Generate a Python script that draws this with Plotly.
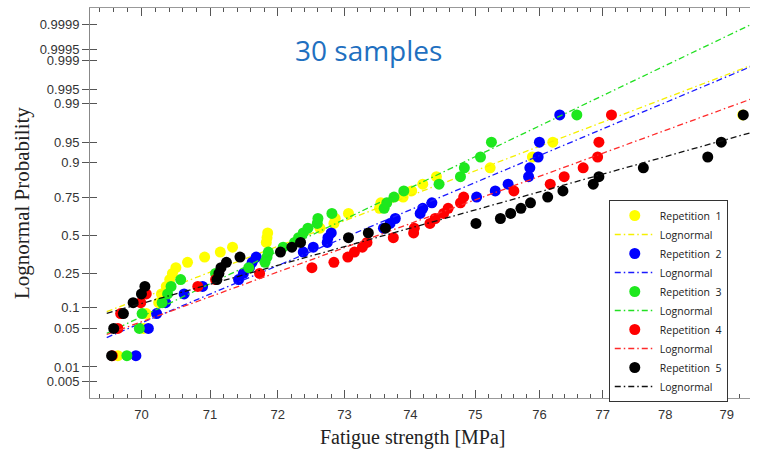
import math
from statistics import NormalDist
import numpy as np
import plotly.graph_objects as go

ND = NormalDist()

# Plotting positions (probabilities) of ranked samples (30 samples)
prob = [0.0167, 0.05, 0.0833, 0.1167, 0.15, 0.1833, 0.2167, 0.25, 0.2833, 0.3167,
        0.35, 0.3833, 0.4167, 0.45, 0.4833, 0.5167, 0.55, 0.5833, 0.6167, 0.65,
        0.6833, 0.7167, 0.75, 0.7833, 0.8167, 0.85, 0.8833, 0.9167, 0.95, 0.9833]

rep1 = [69.66, 70.03, 70.07, 70.25, 70.29, 70.36, 70.41, 70.45, 70.50, 70.67,
        70.92, 71.15, 71.33, 71.83, 71.84, 71.85, 72.63, 72.84, 72.86, 73.06,
        73.53, 73.55, 73.89, 74.02, 74.19, 74.40, 75.23, 75.89, 76.21, 79.26]
rep2 = [69.92, 70.10, 70.22, 70.35, 70.62, 70.89, 71.42, 71.49, 71.58, 71.62,
        71.68, 72.38, 72.53, 72.74, 72.75, 72.80, 73.59, 73.69, 73.77, 74.15,
        74.19, 74.33, 75.02, 75.31, 75.51, 75.83, 75.85, 75.98, 76.00, 76.32]
rep3 = [69.79, 69.97, 70.01, 70.30, 70.38, 70.43, 70.57, 71.08, 71.57, 71.81,
        71.84, 71.86, 72.08, 72.25, 72.31, 72.38, 72.45, 72.59, 72.60, 72.81,
        73.60, 73.64, 73.75, 73.90, 74.44, 74.77, 74.83, 75.08, 75.25, 76.59]
rep4 = [69.58, 69.66, 69.70, 69.99, 70.07, 70.82, 71.08, 71.73, 72.51, 72.84,
        73.05, 73.15, 73.27, 73.34, 73.74, 74.05, 74.06, 74.30, 74.38, 74.51,
        74.58, 74.77, 74.82, 75.60, 76.17, 76.39, 76.69, 76.92, 76.94, 77.14]
rep5 = [69.57, 69.60, 69.74, 69.88, 70.00, 70.05, 71.10, 71.13, 71.16, 71.24,
        71.44, 72.04, 72.21, 72.34, 73.06, 73.36, 73.62, 75.01, 75.39, 75.55,
        75.71, 75.86, 76.13, 76.37, 76.85, 76.94, 77.65, 78.69, 78.91, 79.27]

# Lognormal fits (median [MPa], sigma of ln)
fit_median = [72.43, 73.08, 72.50, 73.51, 73.61]
fit_sigma = [0.0306, 0.0278, 0.0244, 0.0320, 0.0417]
fit_x = [69.5, 79.6]

series_names = ["Repetition\u00a0\u00a01", "Repetition\u00a0\u00a02", "Repetition\u00a0\u00a03",
                "Repetition\u00a0\u00a04", "Repetition\u00a0\u00a05"]
marker_colors = ["#ffff00", "#0000ff", "#1ee81e", "#ff0000", "#000000"]
line_colors = ["#f5f000", "#1a1aff", "#22e022", "#ff2a2a", "#111111"]

x_ticks = [70, 71, 72, 73, 74, 75, 76, 77, 78, 79]
x_ticktext = ["70", "71", "72", "73", "74", "75", "76", "77", "78", "79"]
y_tick_probs = [0.005, 0.01, 0.05, 0.1, 0.25, 0.5, 0.75, 0.9, 0.95, 0.99, 0.995, 0.999, 0.9995, 0.9999]
y_ticktext = ["0.005", "0.01", "0.05", "0.1", "0.25", "0.5", "0.75", "0.9", "0.95", "0.99",
              "0.995", "0.999", "0.9995", "0.9999"]

reps = [rep1, rep2, rep3, rep4, rep5]
zpos = [ND.inv_cdf(p) for p in prob]

fig = go.Figure()
for i in range(5):
    fig.add_trace(go.Scatter(
        x=reps[i], y=zpos, mode="markers", name=series_names[i],
        marker=dict(color=marker_colors[i], size=11, line=dict(width=0)),
    ))
    zline = [(math.log(x) - math.log(fit_median[i])) / fit_sigma[i] for x in fit_x]
    fig.add_trace(go.Scatter(
        x=fit_x, y=zline, mode="lines", name="Lognormal",
        line=dict(color=line_colors[i], width=1.3, dash="6px,3px,1.5px,3px"),
    ))

# dummy trace to activate the secondary (tick-only) y axis
fig.add_trace(go.Scatter(x=[70], y=[None], yaxis="y2", showlegend=False, hoverinfo="skip"))

minor_vals = [round(v, 1) for v in np.arange(69.4, 79.4, 0.2) if abs(v - round(v)) > 1e-6]

yr = [-2.875, 4.016]
font_ticks = dict(family="Liberation Sans", size=13, color="#333333")

fig.update_layout(
    width=764, height=456,
    margin=dict(l=90, r=14, t=8, b=58, autoexpand=False),
    plot_bgcolor="white", paper_bgcolor="white",
    showlegend=True,
    xaxis=dict(
        type="log", range=[math.log10(69.26), math.log10(79.38)],
        tickmode="array", tickvals=x_ticks, ticktext=x_ticktext,
        ticks="inside", ticklen=8, tickwidth=1, tickcolor="#555555",
        showline=True, linecolor="#999999", linewidth=1, mirror="ticks",
        showgrid=False, zeroline=False, tickfont=font_ticks, ticklabelstandoff=4,
        minor=dict(tickvals=minor_vals, ticks="inside", ticklen=4, tickcolor="#555555", tickwidth=1),
    ),
    yaxis=dict(
        range=yr, tickmode="array",
        tickvals=[ND.inv_cdf(p) for p in y_tick_probs], ticktext=y_ticktext,
        ticks="outside", ticklen=7, tickwidth=1, tickcolor="#555555",
        showline=True, linecolor="#888888", linewidth=1, mirror=False,
        showgrid=False, zeroline=False, tickfont=font_ticks,
    ),
    yaxis2=dict(
        range=yr, overlaying="y", side="left", tickmode="array",
        tickvals=[ND.inv_cdf(p) for p in y_tick_probs],
        ticks="inside", ticklen=7, tickwidth=1, tickcolor="#555555",
        showticklabels=False, showline=False, showgrid=False, zeroline=False,
    ),
    legend=dict(
        x=0.786, y=0.5077, xanchor="left", yanchor="top",
        bordercolor="#333333", borderwidth=1, bgcolor="white",
        font=dict(family="Open Sans", size=10.5, color="#222222"),
        itemwidth=40, tracegroupgap=0,
    ),
    annotations=[
        dict(text="30 samples", x=0.4227, y=0.892, xref="paper", yref="paper",
             xanchor="center", yanchor="middle", showarrow=False,
             font=dict(family="Open Sans", size=28, color="#1f70c0")),
        dict(text="Lognormal Probability", x=-0.103, y=0.5, xref="paper", yref="paper",
             xanchor="center", yanchor="middle", showarrow=False, textangle=-90,
             font=dict(family="Liberation Serif", size=21, color="#222222")),
        dict(text="Fatigue strength [MPa]", x=0.49, y=-0.1, xref="paper", yref="paper",
             xanchor="center", yanchor="middle", showarrow=False,
             font=dict(family="Liberation Serif", size=20, color="#222222")),
    ],
)

fig.write_html("out.html", config={"displayModeBar": False},
               post_script="document.body.style.margin='0px';")
